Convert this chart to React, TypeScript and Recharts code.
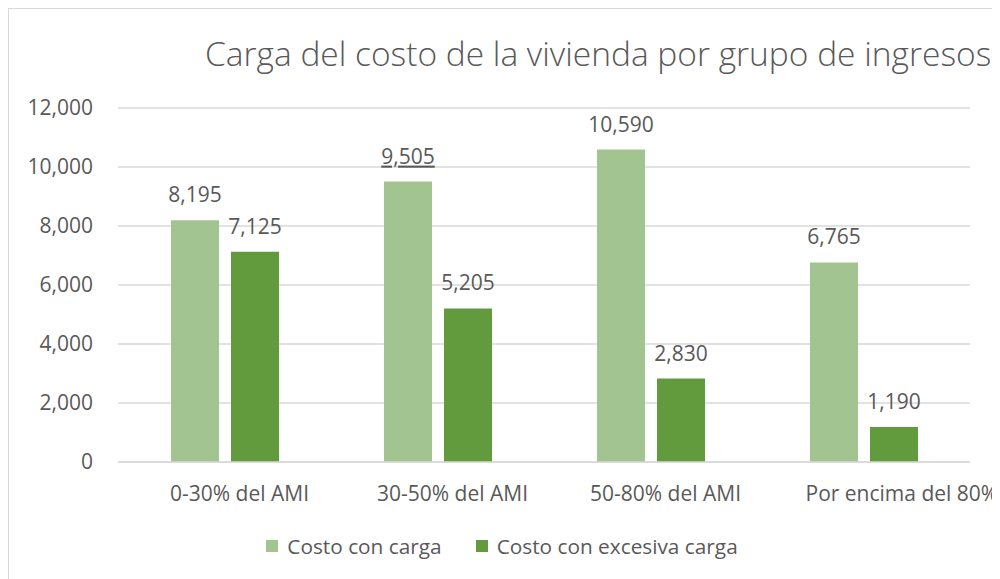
import React from "react";
import { BarChart, Bar, XAxis, YAxis, CartesianGrid, LabelList, Legend } from "recharts";

const categories = ["0-30% del AMI", "30-50% del AMI", "50-80% del AMI", "Por encima del 80%"];
const costoConCarga = [8195, 9505, 10590, 6765];
const costoExcesiva = [7125, 5205, 2830, 1190];
const yTicks = [0, 2000, 4000, 6000, 8000, 10000, 12000];
const seriesNames = ["Costo con carga", "Costo con excesiva carga"];
const underlinedLabels = [9505];

const data = categories.map((c, i) => ({
  name: c,
  carga: costoConCarga[i],
  excesiva: costoExcesiva[i],
}));

const FONT = "'Open Sans', sans-serif";
const TEXT = "#595959";
const LIGHT = "#A2C490";
const DARK = "#619B3E";

const fmt = (v: number) => v.toLocaleString("en-US");

const XTick = (props: any) => {
  const { x, y, payload, index } = props;
  const last = index === categories.length - 1;
  return (
    <text
      x={last ? x - 58 : x + 15}
      y={y}
      dy="0.71em"
      textAnchor={last ? "start" : "middle"}
      fill={TEXT}
      fontSize={21}
      fontFamily={FONT}
    >
      {payload.value}
    </text>
  );
};

const DataLabel = (props: any) => {
  const { x, y, width, value } = props;
  const u = underlinedLabels.includes(value);
  return (
    <text
      x={x + width / 2}
      y={y - 18}
      textAnchor="middle"
      fill={TEXT}
      fontSize={21}
      fontFamily={FONT}
      textDecoration={u ? "underline" : undefined}
    >
      {fmt(value)}
    </text>
  );
};

const LegendContent = () => (
  <div
    style={{
      height: 40,
      display: "flex",
      justifyContent: "center",
      alignItems: "center",
      fontFamily: FONT,
      fontSize: 20.8,
      color: TEXT,
      paddingLeft: 25,
      paddingTop: 8,
      boxSizing: "border-box",
    }}
  >
    {[LIGHT, DARK].map((col, i) => (
      <div key={i} style={{ display: "flex", alignItems: "center", marginRight: i === 0 ? 34 : 0 }}>
        <div style={{ width: 12, height: 12, background: col, marginRight: 9 }} />
        <span>{seriesNames[i]}</span>
      </div>
    ))}
  </div>
);

export default function App() {
  return (
    <div
      style={{
        position: "relative",
        width: 989,
        height: 570,
        borderTop: "1px solid #D9D9D9",
        borderLeft: "1px solid #D9D9D9",
        borderRight: "1px solid #D9D9D9",
        background: "#fff",
      }}
    >
      <style>{`html{overflow:hidden;} body{overflow:visible;} .recharts-surface{overflow:visible !important;} .recharts-wrapper{overflow:visible !important;}`}</style>
      <div
        style={{
          position: "absolute",
          top: 21,
          left: 196,
          textAlign: "left",
          fontFamily: FONT,
          fontSize: 33.5,
          fontWeight: 300,
          color: TEXT,
          whiteSpace: "nowrap",
          zIndex: 2,
        }}
      >
        Carga del costo de la vivienda por grupo de ingresos
      </div>
      <BarChart
        width={989}
        height={570}
        data={data}
        margin={{ top: 99, right: 28, left: 0, bottom: 17 }}
        barSize={48}
        barGap={12}
      >
        <CartesianGrid vertical={false} stroke="#D9D9D9" strokeWidth={1.5} />
        <XAxis
          dataKey="name"
          height={60}
          tickLine={false}
          axisLine={{ stroke: "#D9D9D9", strokeWidth: 1.5 }}
          tick={<XTick />}
          tickMargin={18}
          interval={0}
        />
        <YAxis
          width={109}
          domain={[0, 12000]}
          ticks={yTicks}
          tickFormatter={fmt}
          tickLine={false}
          axisLine={false}
          tickMargin={19}
          tick={{ fill: TEXT, fontSize: 21, fontFamily: FONT }}
        />
        <Legend verticalAlign="bottom" content={<LegendContent />} />
        <Bar dataKey="carga" name={seriesNames[0]} fill={LIGHT} isAnimationActive={false}>
          <LabelList dataKey="carga" content={<DataLabel />} />
        </Bar>
        <Bar dataKey="excesiva" name={seriesNames[1]} fill={DARK} isAnimationActive={false}>
          <LabelList dataKey="excesiva" content={<DataLabel />} />
        </Bar>
      </BarChart>
    </div>
  );
}
